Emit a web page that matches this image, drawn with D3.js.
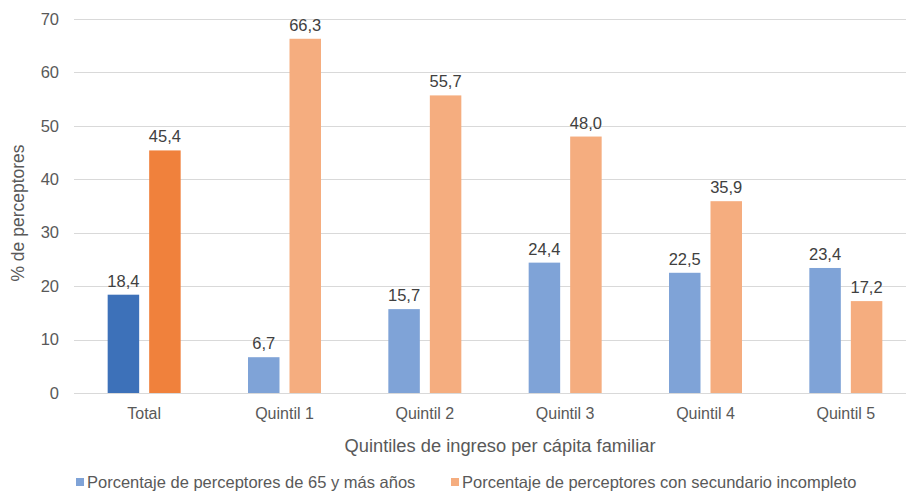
<!DOCTYPE html>
<html>
<head>
<meta charset="utf-8">
<script src="https://cdn.jsdelivr.net/npm/d3@7"></script>
<style>
    body { margin: 0; background: #fff; }
    svg text { font-family: "Liberation Sans", Arial, sans-serif; }
</style>
</head>
<body>
<svg id="chart" width="906" height="495"></svg>
<script>
// chart data
const categories = ['Total', 'Quintil 1', 'Quintil 2', 'Quintil 3', 'Quintil 4', 'Quintil 5'];
const seriesNames = [
    'Porcentaje de perceptores de 65 y más años',
    'Porcentaje de perceptores con secundario incompleto'
];
const mayores = [18.4, 6.7, 15.7, 24.4, 22.5, 23.4];
const secundario = [45.4, 66.3, 55.7, 48.0, 35.9, 17.2];
const yTicks = [0, 10, 20, 30, 40, 50, 60, 70];

// colours: first group (Total) is darker than the quintiles
const darkColors = ['#3D71B9', '#F0813C'];
const lightColors = ['#7FA3D7', '#F5AD7F'];

const svg = d3.select('#chart');
const plot = { left: 74, right: 916, top: 19, bottom: 393 };

const x0 = d3.scaleBand().domain(categories).range([plot.left, plot.right]);
const x1 = d3.scaleBand().domain([0, 1])
    .range([x0.bandwidth() / 2 - 36.5, x0.bandwidth() / 2 + 36.5])
    .paddingInner(0.241);
const y = d3.scaleLinear().domain([0, 70]).range([plot.bottom, plot.top]);

// gridlines
svg.append('g').selectAll('line')
    .data(yTicks).enter().append('line')
    .attr('x1', plot.left)
    .attr('x2', 906)
    .attr('y1', d => Math.round(y(d)) + 0.5)
    .attr('y2', d => Math.round(y(d)) + 0.5)
    .attr('stroke', '#d9d9d9')
    .attr('stroke-width', 1);

// y tick labels
svg.append('g').selectAll('text')
    .data(yTicks).enter().append('text')
    .attr('x', 59)
    .attr('y', d => y(d))
    .attr('dy', '0.35em')
    .attr('text-anchor', 'end')
    .attr('font-size', 16.5)
    .attr('fill', '#595959')
    .text(d => d);

// y axis title
svg.append('text')
    .attr('transform', 'translate(24,213) rotate(-90)')
    .attr('text-anchor', 'middle')
    .attr('font-size', 17.5)
    .attr('fill', '#595959')
    .text('% de perceptores');

// bars
const rows = categories.map((c, i) => ({ cat: c, idx: i, values: [mayores[i], secundario[i]] }));
const groups = svg.append('g').selectAll('g')
    .data(rows).enter().append('g')
    .attr('transform', d => 'translate(' + x0(d.cat) + ',0)');

const bars = groups.selectAll('g')
    .data(d => d.values.map((v, s) => ({ v: v, s: s, first: d.idx === 0 })))
    .enter().append('g');

bars.append('rect')
    .attr('x', d => x1(d.s))
    .attr('width', x1.bandwidth())
    .attr('y', d => y(d.v))
    .attr('height', d => y(0) - y(d.v))
    .attr('fill', d => (d.first ? darkColors : lightColors)[d.s]);

// value labels with comma decimals
bars.append('text')
    .attr('x', d => x1(d.s) + x1.bandwidth() / 2)
    .attr('y', d => y(d.v) - 8)
    .attr('text-anchor', 'middle')
    .attr('font-size', 16.5)
    .attr('fill', '#404040')
    .text(d => d.v.toFixed(1).replace('.', ','));

// category labels
svg.append('g').selectAll('text')
    .data(categories).enter().append('text')
    .attr('x', d => x0(d) + x0.bandwidth() / 2)
    .attr('y', 419)
    .attr('text-anchor', 'middle')
    .attr('font-size', 16)
    .attr('fill', '#595959')
    .text(d => d);

// x axis title
svg.append('text')
    .attr('x', 500)
    .attr('y', 452)
    .attr('text-anchor', 'middle')
    .attr('font-size', 18.3)
    .attr('fill', '#595959')
    .text('Quintiles de ingreso per cápita familiar');

// legend
const legendX = [76, 451];
const legend = svg.append('g').selectAll('g')
    .data(seriesNames).enter().append('g')
    .attr('transform', (d, i) => 'translate(' + legendX[i] + ',478)');
legend.append('rect')
    .attr('width', 8)
    .attr('height', 8)
    .attr('y', 0)
    .attr('fill', (d, i) => lightColors[i]);
legend.append('text')
    .attr('x', 11)
    .attr('y', 4)
    .attr('dy', '0.35em')
    .attr('font-size', 16.5)
    .attr('fill', '#595959')
    .text(d => d);
</script>
</body>
</html>
